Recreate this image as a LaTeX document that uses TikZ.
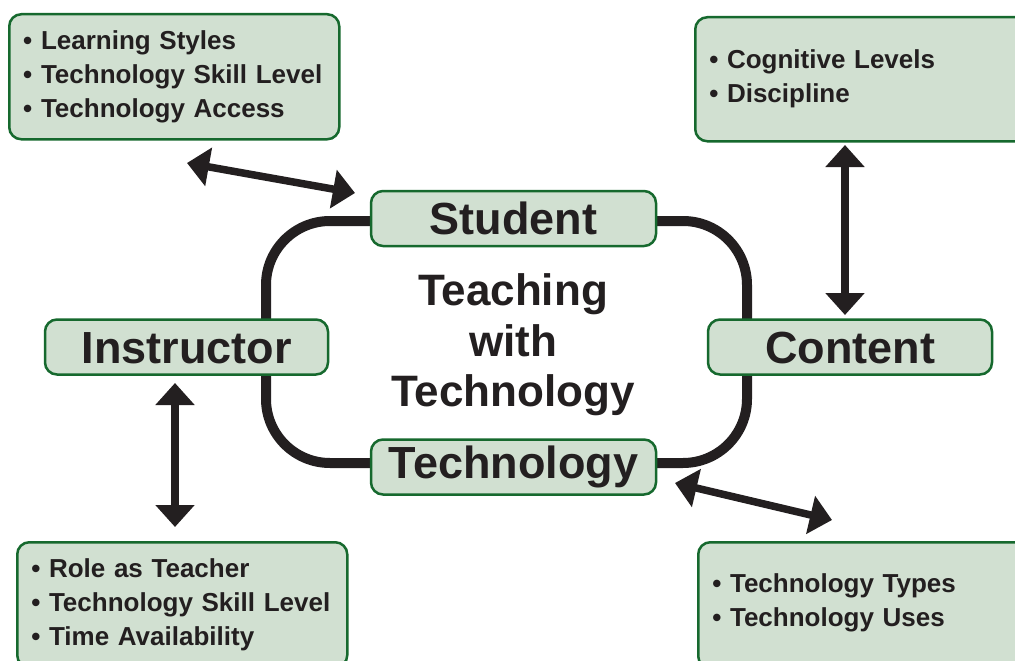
\documentclass[tikz,border=0pt]{standalone}
\usepackage{fontspec}
\setmainfont{Liberation Sans}
\usetikzlibrary{arrows.meta}
\definecolor{boxfill}{HTML}{D1E0D1}
\definecolor{boxline}{HTML}{16692E}
\definecolor{ink}{HTML}{231F20}
\begin{document}
\begin{tikzpicture}[x=1pt,y=-1pt,
  infobox/.style={draw=boxline, fill=boxfill, line width=2.5pt, rounded corners=12pt,
    anchor=north west, align=left, inner xsep=14pt, inner ysep=0pt,
    font=\fontsize{26}{34}\selectfont\bfseries, text=ink},
  labelbox/.style={draw=boxline, fill=boxfill, line width=2.5pt, rounded corners=12pt,
    minimum height=55pt, inner sep=0pt,
    font=\fontsize{45}{54}\selectfont\bfseries, text=ink, text height=32pt, text depth=0pt},
  dblarrow/.style={draw=ink, line width=7.5pt, {Triangle[length=22pt,width=38pt]}-{Triangle[length=22pt,width=38pt]}},
  loopline/.style={draw=ink, line width=10pt, rounded corners=64pt}
]
\useasboundingbox (0,0) rectangle (1015,661);
\clip (0,0) rectangle (1015,661);
\fill[white] (0,0) rectangle (1015,661);

% central loop
\draw[loopline] (266,221) rectangle (747,463);

% central text
\node[font=\fontsize{44}{50.5}\selectfont\bfseries, text=ink, align=center] (ttt) at (513,345)
  {Teaching\\with\\Technology};

% main labels
\node[labelbox, minimum width=285pt] (student) at (513.5,218.5) {Student};
\node[labelbox, minimum width=283pt] (instructor) at (186.5,347) {Instructor};
\node[labelbox, minimum width=284pt] (content) at (850,347) {Content};
\node[labelbox, minimum width=285pt, minimum height=55pt, text depth=10pt] (technology) at (513.5,467) {Technology};

% info boxes
\node[infobox, text width=302pt, minimum height=125pt] (learner) at (8,13)
  {• Learning Styles\\• Technology Skill Level\\• Technology Access};
\node[infobox, text width=312pt, minimum height=124pt] (subject) at (694,16)
  {• Cognitive Levels\\• Discipline};
\node[infobox, text width=302pt, minimum height=125pt] (teacher) at (16,541)
  {• Role as Teacher\\• Technology Skill Level\\• Time Availability};
\node[infobox, text width=312pt, minimum height=126pt] (tools) at (697,541)
  {• Technology Types\\• Technology Uses\rule[-11pt]{0pt}{1pt}};

% arrow end points
\coordinate (a1) at (187,163);
\coordinate (a2) at (355,193);
\coordinate (b1) at (845,145);
\coordinate (b2) at (845,315);
\coordinate (c1) at (175,383);
\coordinate (c2) at (175,527);
\coordinate (d1) at (675,483);
\coordinate (d2) at (832,520);

\draw[dblarrow] (a1) -- (a2);
\draw[dblarrow] (b1) -- (b2);
\draw[dblarrow] (c1) -- (c2);
\draw[dblarrow] (d1) -- (d2);
\end{tikzpicture}
\end{document}
